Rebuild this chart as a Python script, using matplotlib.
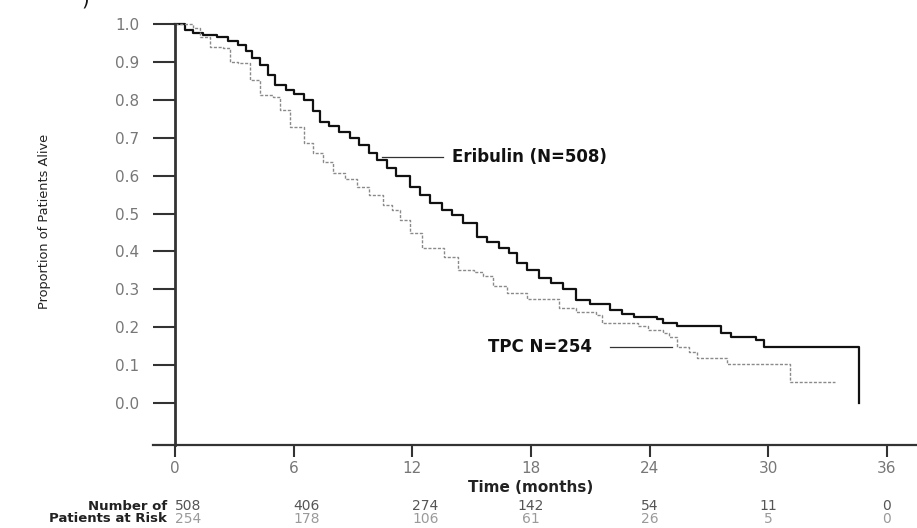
import numpy as np
import matplotlib
matplotlib.use("Agg")
import matplotlib.pyplot as plt
from matplotlib import transforms

# Kaplan-Meier step data (months, proportion alive)
eri_t = [0, 0.5, 0.9, 1.4, 2.1, 2.7, 3.2, 3.6, 3.9, 4.3, 4.7, 5.06, 5.6, 6.0, 6.5, 7.0,
         7.33, 7.8, 8.3, 8.85, 9.3, 9.8, 10.2, 10.7, 11.2, 11.9, 12.4, 12.9, 13.5, 14.0,
         14.57, 15.3, 15.8, 16.4, 16.9, 17.3, 17.8, 18.4, 19.0, 19.6, 20.3, 21.0, 22.0,
         22.6, 23.2, 24.4, 24.7, 25.4, 27.6, 28.1, 29.4, 29.8, 34.6]
eri_s = [1.0, 0.985, 0.976, 0.97, 0.966, 0.955, 0.945, 0.93, 0.91, 0.892, 0.865, 0.839,
         0.825, 0.815, 0.80, 0.77, 0.741, 0.73, 0.715, 0.70, 0.68, 0.66, 0.641, 0.62, 0.60,
         0.57, 0.55, 0.528, 0.51, 0.495, 0.475, 0.438, 0.425, 0.409, 0.396, 0.369, 0.35,
         0.33, 0.317, 0.30, 0.272, 0.26, 0.245, 0.235, 0.227, 0.222, 0.211, 0.203, 0.185,
         0.174, 0.165, 0.148, 0.0]

tpc_t = [0, 0.9, 1.26, 1.77, 2.43, 2.8, 3.2, 3.8, 4.3, 4.96, 5.3, 5.82, 6.5, 7.0, 7.5,
         8.0, 8.6, 9.2, 9.8, 10.5, 11.0, 11.4, 11.9, 12.5, 13.6, 14.3, 15.1, 15.6, 16.1,
         16.8, 17.8, 19.4, 20.3, 21.3, 21.6, 23.4, 23.9, 24.7, 25.0, 25.4, 26.0, 26.4,
         27.9, 31.1, 33.4]
tpc_s = [1.0, 0.99, 0.966, 0.94, 0.937, 0.90, 0.897, 0.852, 0.813, 0.807, 0.773, 0.728,
         0.686, 0.659, 0.635, 0.607, 0.59, 0.57, 0.55, 0.522, 0.509, 0.483, 0.449, 0.409,
         0.385, 0.351, 0.346, 0.335, 0.309, 0.29, 0.274, 0.25, 0.24, 0.232, 0.211, 0.203,
         0.193, 0.185, 0.174, 0.148, 0.135, 0.119, 0.103, 0.055, 0.055]

xticks = [0, 6, 12, 18, 24, 30, 36]
yticks = [0.0, 0.1, 0.2, 0.3, 0.4, 0.5, 0.6, 0.7, 0.8, 0.9, 1.0]
risk_eri = ["508", "406", "274", "142", "54", "11", "0"]
risk_tpc = ["254", "178", "106", "61", "26", "5", "0"]

fig = plt.figure(figsize=(9.17, 5.28), dpi=100)
ax = fig.add_axes([153/917, 83/528, 764/917, 421/528])
ax.set_xlim(-1.113, 37.53)
ax.set_ylim(-0.1108, 1.0)

ax.plot(eri_t, eri_s, drawstyle="steps-post", color="#111111", lw=1.6, clip_on=False)
ax.plot(tpc_t, tpc_s, drawstyle="steps-post", color="#8a8a8a", lw=1.0,
        linestyle=(0, (2.2, 1.2)), clip_on=False)

# axes styling
for s in ["top", "right"]:
    ax.spines[s].set_visible(False)
ax.spines["left"].set_position(("data", 0))
ax.spines["left"].set_bounds(-0.1108, 1.0)
ax.spines["left"].set_linewidth(2.0)
ax.spines["left"].set_color("#333333")
ax.spines["bottom"].set_linewidth(1.6)
ax.spines["bottom"].set_color("#333333")

ax.set_xticks(xticks)
ax.set_yticks(yticks)
ax.set_yticklabels(["%.1f" % v for v in yticks])
ax.tick_params(axis="y", direction="out", length=15.8, width=1.5, color="#333333",
               pad=10, labelsize=11, labelcolor="#777777")
ax.tick_params(axis="x", direction="out", length=8.6, width=1.5, color="#333333",
               pad=3, labelsize=11, labelcolor="#777777")

fig.text(45/917, 1 - 221/528, "Proportion of Patients Alive", rotation=90,
         ha="center", va="center", fontsize=9.3, color="#222222")

# curve labels
ax.plot([10.48, 13.56], [0.649, 0.649], color="#333333", lw=0.9)
ax.text(14.0, 0.649, "Eribulin (N=508)", fontsize=12, fontweight="bold",
        ha="left", va="center", color="#111111")
ax.plot([22.0, 25.14], [0.148, 0.148], color="#333333", lw=0.9)
ax.text(21.1, 0.148, "TPC N=254", fontsize=12, fontweight="bold",
        ha="right", va="center", color="#111111")

# x label and numbers at risk
tr = transforms.blended_transform_factory(ax.transData, fig.transFigure)
ax.text(18, 1 - 488/528, "Time (months)", transform=tr, fontsize=11,
        fontweight="bold", ha="center", va="center", color="#222222")
fig.text(167/917, 1 - 506/528, "Number of", fontsize=9.5, fontweight="bold",
         ha="right", va="center", color="#222222")
fig.text(167/917, 1 - 519/528, "Patients at Risk", fontsize=9.5, fontweight="bold",
         ha="right", va="center", color="#222222")
for i, x in enumerate(xticks):
    ha = "left" if i < 3 else "center"
    ax.text(x, 1 - 506/528, risk_eri[i], transform=tr, fontsize=10, ha=ha,
            va="center", color="#555555")
    ax.text(x, 1 - 519/528, risk_tpc[i], transform=tr, fontsize=10, ha=ha,
            va="center", color="#9a9a9a")

# clipped character at top-left edge
fig.text(85/917, 1.0, ")", fontsize=14, ha="center", va="center", color="#111111")

fig.savefig("out.png", dpi=100)
